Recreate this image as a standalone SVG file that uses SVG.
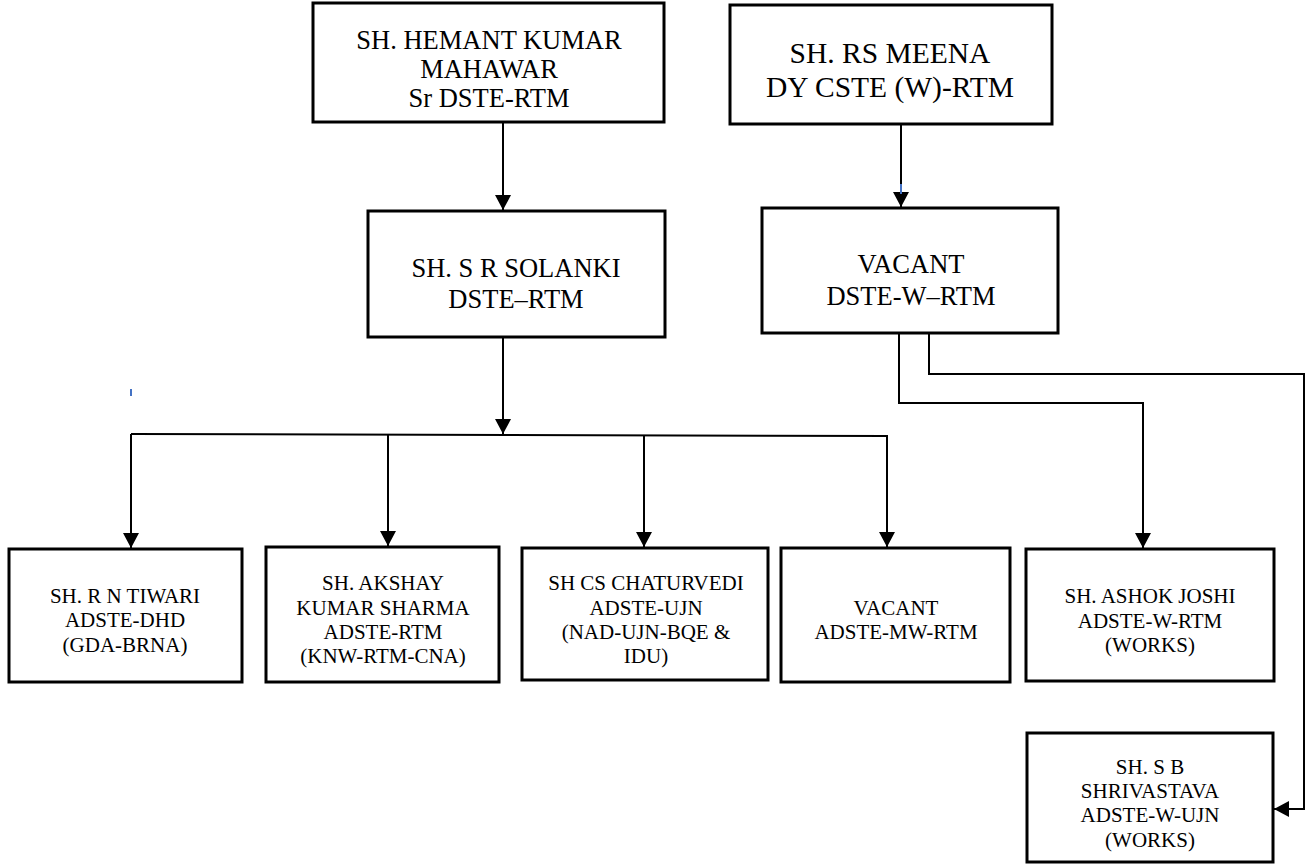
<svg xmlns="http://www.w3.org/2000/svg" width="1309" height="865" viewBox="0 0 1309 865">
<defs>
<marker id="ah" markerUnits="userSpaceOnUse" markerWidth="16" markerHeight="16" viewBox="0 0 16 16" refX="15" refY="8" orient="auto">
<path d="M0,0 L15,8 L0,16 z" fill="#000"/>
</marker>
</defs>
<style>
.box{fill:#fff;stroke:#000;stroke-width:3}
.c{fill:none;stroke:#000;stroke-width:2}
.ca{fill:none;stroke:#000;stroke-width:2;marker-end:url(#ah)}
</style>
<rect width="1309" height="865" fill="#fff"/>
<g id="connectors">
<path class="ca" d="M503,122 V210"/>
<path class="ca" d="M901,124 V207"/>
<path d="M901,184 V194" stroke="#4472c4" stroke-width="2"/>
<path class="ca" d="M503,337 V434"/>
<path class="c" d="M131,434 L888,436"/>
<path class="ca" d="M131,434 V548"/>
<path class="ca" d="M388,435 V546"/>
<path class="ca" d="M644,435 V547"/>
<path class="ca" d="M887,436 V547"/>
<path class="ca" d="M899,333 V403 H1143 V548"/>
<path class="ca" d="M929,333 V374 H1304 V809 H1274"/>
<path d="M131,389 V396" stroke="#4472c4" stroke-width="2"/>
</g>
<g font-family="Liberation Serif, DejaVu Serif, serif" text-anchor="middle" fill="#000">
<g id="n-hemant" font-size="26.5">
<rect class="box" x="313" y="3" width="351" height="119"/>
<text x="489" y="49">SH. HEMANT KUMAR</text>
<text x="489" y="78">MAHAWAR</text>
<text x="489" y="107">Sr DSTE-RTM</text>
</g>
<g id="n-meena" font-size="29.5">
<rect class="box" x="730" y="5" width="322" height="119"/>
<text x="890" y="63">SH. RS MEENA</text>
<text x="890" y="97">DY CSTE (W)-RTM</text>
</g>
<g id="n-solanki" font-size="26.5">
<rect class="box" x="368" y="211" width="297" height="126"/>
<text x="516" y="277">SH. S R SOLANKI</text>
<text x="516" y="308">DSTE–RTM</text>
</g>
<g id="n-vacant-w" font-size="26.5">
<rect class="box" x="762" y="208" width="296" height="125"/>
<text x="911" y="273">VACANT</text>
<text x="911" y="305">DSTE-W–RTM</text>
</g>
<g id="n-tiwari" font-size="21">
<rect class="box" x="9" y="549" width="233" height="133"/>
<text x="125" y="603">SH. R N TIWARI</text>
<text x="125" y="627">ADSTE-DHD</text>
<text x="125" y="652">(GDA-BRNA)</text>
</g>
<g id="n-akshay" font-size="21">
<rect class="box" x="266" y="547" width="233" height="135"/>
<text x="383" y="590">SH. AKSHAY</text>
<text x="383" y="615">KUMAR SHARMA</text>
<text x="383" y="639">ADSTE-RTM</text>
<text x="383" y="663">(KNW-RTM-CNA)</text>
</g>
<g id="n-chaturvedi" font-size="21">
<rect class="box" x="522" y="548" width="246" height="132"/>
<text x="646" y="590">SH CS CHATURVEDI</text>
<text x="646" y="615">ADSTE-UJN</text>
<text x="646" y="639">(NAD-UJN-BQE &amp;</text>
<text x="646" y="663">IDU)</text>
</g>
<g id="n-vacant-mw" font-size="21">
<rect class="box" x="781" y="548" width="229" height="134"/>
<text x="896" y="615">VACANT</text>
<text x="896" y="639">ADSTE-MW-RTM</text>
</g>
<g id="n-ashok" font-size="21">
<rect class="box" x="1026" y="549" width="248" height="132"/>
<text x="1150" y="603">SH. ASHOK JOSHI</text>
<text x="1150" y="628">ADSTE-W-RTM</text>
<text x="1150" y="652">(WORKS)</text>
</g>
<g id="n-shrivastava" font-size="21">
<rect class="box" x="1027" y="733" width="246" height="129"/>
<text x="1150" y="774">SH. S B</text>
<text x="1150" y="798">SHRIVASTAVA</text>
<text x="1150" y="822">ADSTE-W-UJN</text>
<text x="1150" y="847">(WORKS)</text>
</g>
</g>
</svg>
